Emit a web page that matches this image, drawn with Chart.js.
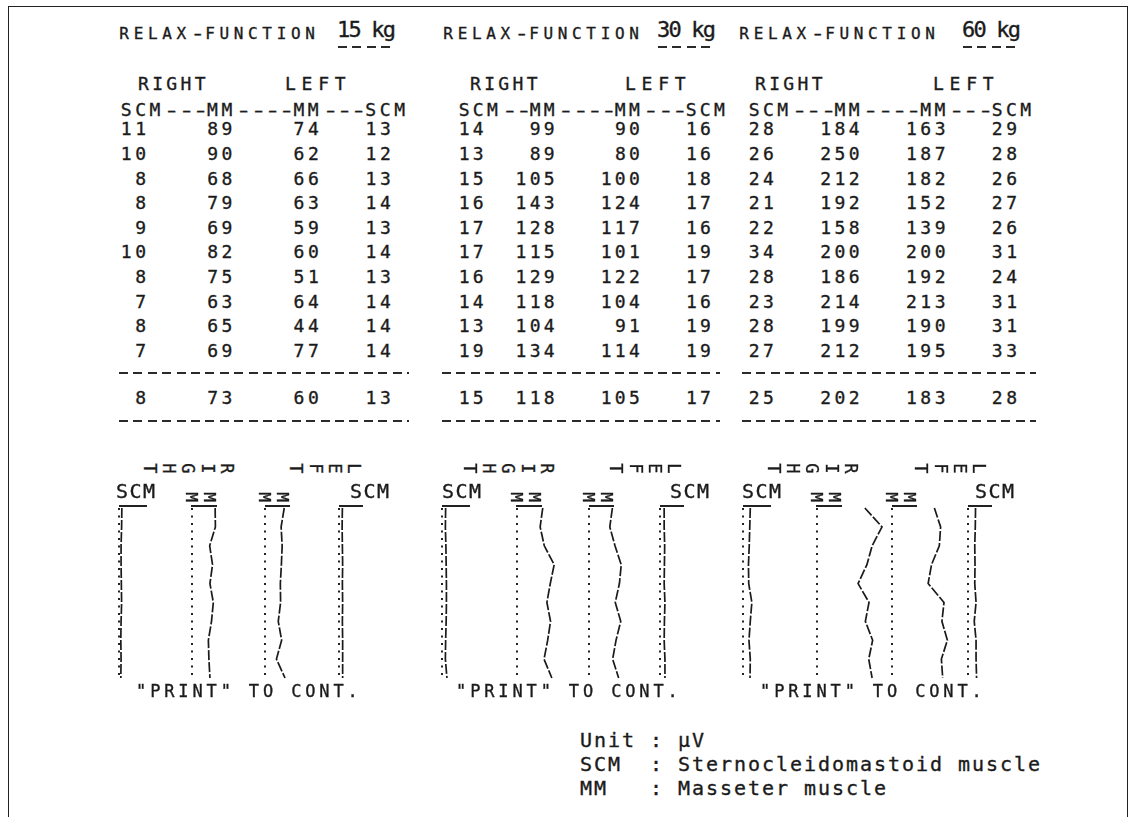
<!DOCTYPE html>
<html>
<head>
<meta charset="utf-8">
<script src="https://cdn.jsdelivr.net/npm/chart.js@4.4.1/dist/chart.umd.min.js"></script>
<style>
  html, body { margin: 0; padding: 0; background: #fff; }
  #page { position: relative; width: 1135px; height: 817px; overflow: hidden; background: #fff; color: #1b1b1b; }
  .t { position: absolute; white-space: pre; line-height: 1; font-family: 'DejaVu Sans Mono', monospace; -webkit-text-stroke: 0.35px #1b1b1b; }
  .t .d { display: inline-block; text-align: center; transform: scaleX(1.5); }
  .rule { position: absolute; height: 2px; background: repeating-linear-gradient(90deg, #2a2a2a 0 9px, transparent 9px 14.4px); }
  .uline { position: absolute; height: 1.5px; background: #222; }
  .rot { display: flex; flex-direction: row-reverse; }
  .rot span { display: inline-block; text-align: center; transform: rotate(90deg); }
  #box { position: absolute; left: 8px; top: 6px; width: 1118px; height: 830px; border: 1.5px solid #222; border-bottom: none; }
  #traces { position: absolute; left: 100px; top: 500px; }
</style>
</head>
<body>
<div id="page">
  <div id="box"></div>
  <canvas id="traces" width="950" height="190"></canvas>
</div>
<script>
// load per panel
const loads = ['15 kg', '30 kg', '60 kg'];

// 15 kg
const scmRight15 = [11, 10, 8, 8, 9, 10, 8, 7, 8, 7];
const mmRight15 = [89, 90, 68, 79, 69, 82, 75, 63, 65, 69];
const mmLeft15 = [74, 62, 66, 63, 59, 60, 51, 64, 44, 77];
const scmLeft15 = [13, 12, 13, 14, 13, 14, 13, 14, 14, 14];
const mean15 = [8, 73, 60, 13];

// 30 kg
const scmRight30 = [14, 13, 15, 16, 17, 17, 16, 14, 13, 19];
const mmRight30 = [99, 89, 105, 143, 128, 115, 129, 118, 104, 134];
const mmLeft30 = [90, 80, 100, 124, 117, 101, 122, 104, 91, 114];
const scmLeft30 = [16, 16, 18, 17, 16, 19, 17, 16, 19, 19];
const mean30 = [15, 118, 105, 17];

// 60 kg
const scmRight60 = [28, 26, 24, 21, 22, 34, 28, 23, 28, 27];
const mmRight60 = [184, 250, 212, 192, 158, 200, 186, 214, 199, 212];
const mmLeft60 = [163, 187, 182, 152, 139, 200, 192, 213, 190, 195];
const scmLeft60 = [29, 28, 26, 27, 26, 31, 24, 31, 31, 33];
const mean60 = [25, 202, 183, 28];

const headers = ['SCM---MM----MM---SCM', 'SCM--MM----MM---SCM', 'SCM---MM----MM---SCM'];

const panels = [
  { load: loads[0], cols: [scmRight15, mmRight15, mmLeft15, scmLeft15], mean: mean15, header: headers[0] },
  { load: loads[1], cols: [scmRight30, mmRight30, mmLeft30, scmLeft30], mean: mean30, header: headers[1] },
  { load: loads[2], cols: [scmRight60, mmRight60, mmLeft60, scmLeft60], mean: mean60, header: headers[2] }
];

// layout (pixels)
const gridX = [119, 457, 747];
const pitch = [14.4, 14.2, 14.3];
const colEnds = [[1, 7, 13, 18], [1, 6, 12, 17], [1, 7, 13, 18]];
const titleX = [117, 441, 737];
const kgX = [338, 658, 963];
const rightX = [138, 470, 755];
const leftX = [285, 625, 933];
const ruleX = [[119, 409], [442, 720], [742, 1036]];
const rotRight = [188, 508, 812];
const rotLeft = [325, 645, 950];
const laneX = [[119, 192, 265, 339], [442, 517, 589, 660], [743, 817, 892, 968]];
const scmLabelX = [[116, 350], [442, 670], [742, 975]];
const printX = [136, 456, 760];
const ROW0 = 129, ROW_STEP = 24.6;

const page = document.getElementById('page');

// printed text on a fixed character pitch; hyphens are drawn longer, as the printer did
function text(str, x, cy, size, step) {
  const d = document.createElement('div');
  d.className = 't';
  const adv = 0.602 * size;
  const ls = step - adv;
  for (const run of str.split(/(-+)/)) {
    if (!run) continue;
    if (run[0] === '-') {
      for (const ch of run) {
        const s = document.createElement('span');
        s.className = 'd';
        s.textContent = ch;
        s.style.width = (step / 1.5) + 'px';
        s.style.margin = '0 ' + (step - step / 1.5) / 2 + 'px';
        s.style.letterSpacing = (step / 1.5 - adv) + 'px';
        d.appendChild(s);
      }
    } else {
      d.appendChild(document.createTextNode(run));
    }
  }
  d.style.left = (x + ls / 2) + 'px';
  d.style.top = (cy - 0.48 * size) + 'px';
  d.style.fontSize = size + 'px';
  d.style.letterSpacing = ls + 'px';
  page.appendChild(d);
  return d;
}

// printer labels written sideways: each letter turned a quarter turn, first letter on the right
function rotText(str, cx, cy, size, step) {
  const d = document.createElement('div');
  d.className = 't rot';
  d.style.left = (cx - str.length * step / 2) + 'px';
  d.style.top = (cy - size / 2) + 'px';
  d.style.fontSize = size + 'px';
  for (const ch of str) {
    const s = document.createElement('span');
    s.textContent = ch;
    s.style.width = step + 'px';
    s.style.lineHeight = size + 'px';
    d.appendChild(s);
  }
  page.appendChild(d);
}

function line(cls, x1, x2, y) {
  const d = document.createElement('div');
  d.className = cls;
  d.style.left = x1 + 'px';
  d.style.width = (x2 - x1) + 'px';
  d.style.top = y + 'px';
  page.appendChild(d);
}

// one printed number, right aligned on its column of the character grid
function cell(v, i, k, cy) {
  const str = String(v);
  const x = gridX[i] + (colEnds[i][k] + 1 - str.length) * pitch[i];
  text(str, x, cy, 18, pitch[i]);
}

panels.forEach((p, i) => {
  text('RELAX-FUNCTION', titleX[i], 34, 16, 14.3);
  text(p.load, kgX[i], 30, 22, 11.4);
  line('rule', kgX[i], kgX[i] + 56, 46);

  text('RIGHT', rightX[i] - 1.7, 84, 18, 14.2);
  text('LEFT', leftX[i] - 2.9, 84, 18, 16.6);

  text(p.header, gridX[i], 110, 18, pitch[i]);
  for (let r = 0; r < p.cols[0].length; r++) {
    p.cols.forEach((c, k) => cell(c[r], i, k, ROW0 + r * ROW_STEP));
  }
  line('rule', ruleX[i][0], ruleX[i][1], 372);
  p.mean.forEach((v, k) => cell(v, i, k, 398));
  line('rule', ruleX[i][0], ruleX[i][1], 420);

  // trace headers
  rotText('RIGHT', rotRight[i], 468, 17, 19.4);
  rotText('LEFT', rotLeft[i], 468, 17, 19.4);
  text('SCM', scmLabelX[i][0] - 0.7, 491, 20, 13.5);
  text('SCM', scmLabelX[i][1] - 0.7, 491, 20, 13.5);
  line('uline', laneX[i][0], laneX[i][0] + 28, 505);
  line('uline', laneX[i][3], laneX[i][3] + 24, 505);
  rotText('MM', laneX[i][1] + 8, 497, 16, 18);
  rotText('MM', laneX[i][2] + 8, 497, 16, 18);
  line('uline', laneX[i][1] - 1, laneX[i][1] + 25, 505);
  line('uline', laneX[i][2], laneX[i][2] + 25, 505);

  text('"PRINT" TO CONT.', printX[i] - 1.9, 691, 17, 14.1);
});

text('Unit : µV', 579, 740, 20, 14);
text('SCM  : Sternocleidomastoid muscle', 579, 764, 20, 14);
text('MM   : Masseter muscle', 579, 788, 20, 14);

// traces: amplitude runs across, sample rows run down
const PX_PER_UV = 0.26;
const CV_LEFT = 100, CV_TOP = 500, CV_W = 950, CV_H = 190;
const TRACE_TOP = 508, TRACE_BOT = 678;
const nRows = scmRight15.length;
const rowPx = (TRACE_BOT - TRACE_TOP) / (nRows - 1);

const datasets = [];
panels.forEach((p, i) => {
  p.cols.forEach((vals, k) => {
    const base = (laneX[i][k] - CV_LEFT) / PX_PER_UV;
    datasets.push({
      data: [{ x: base, y: 0 }, { x: base, y: nRows - 1 }],
      showLine: true, pointRadius: 0, borderColor: '#222', borderWidth: 2,
      borderDash: [2, 5.5], borderCapStyle: 'butt', clip: false
    });
    datasets.push({
      data: vals.map((v, r) => ({ x: base + v, y: r })),
      showLine: true, pointRadius: 0, borderColor: '#1a1a1a', borderWidth: 1.7,
      borderDash: [10, 2], tension: 0, clip: false
    });
  });
});

new Chart(document.getElementById('traces'), {
  type: 'scatter',
  data: { datasets },
  options: {
    responsive: false,
    animation: false,
    events: [],
    layout: { padding: 0 },
    plugins: { legend: { display: false }, tooltip: { enabled: false } },
    scales: {
      x: { type: 'linear', display: false, min: 0, max: CV_W / PX_PER_UV },
      y: {
        type: 'linear', display: false, reverse: true,
        min: -(TRACE_TOP - CV_TOP) / rowPx,
        max: (nRows - 1) + (CV_TOP + CV_H - TRACE_BOT) / rowPx
      }
    }
  }
});
</script>
</body>
</html>
